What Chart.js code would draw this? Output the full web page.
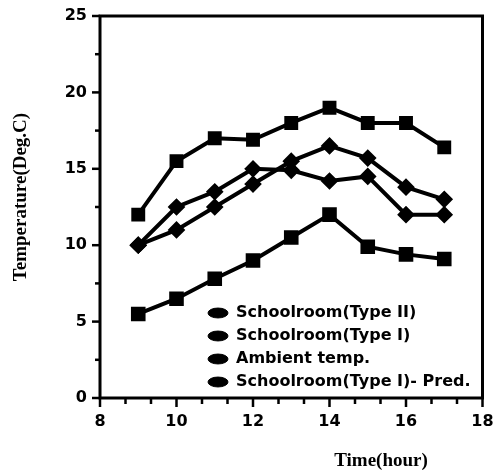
<!DOCTYPE html>
<html><head><meta charset="utf-8">
<style>html,body{margin:0;padding:0;background:#fff}canvas{display:block}</style>
<script src="https://cdn.jsdelivr.net/npm/chart.js@4.4.1/dist/chart.umd.min.js"></script>
</head><body>
<canvas id="c" width="494" height="474"></canvas>
<script>
const hours = [9, 10, 11, 12, 13, 14, 15, 16, 17];
const typeII = [12, 15.5, 17, 16.9, 18, 19, 18, 18, 16.4];
const typeI = [10, 12.5, 13.5, 15, 14.9, 14.2, 14.5, 12, 12];
const ambient = [5.5, 6.5, 7.8, 9, 10.5, 12, 9.9, 9.4, 9.1];
const typeIPred = [10, 11, 12.5, 14, 15.5, 16.5, 15.7, 13.8, 13];
const seriesNames = ['Schoolroom(Type II)', 'Schoolroom(Type I)', 'Ambient temp.', 'Schoolroom(Type I)- Pred.'];
const xLabelValues = [8, 10, 12, 14, 16, 18];
const yLabelValues = [0, 5, 10, 15, 20, 25];
const xMinorStep = 2 / 3;
const yMinorStep = 2.5;
const xTitle = 'Time(hour)';
const yTitle = 'Temperature(Deg.C)';

const xMin = xLabelValues[0], xMax = xLabelValues[xLabelValues.length - 1];
const yMin = yLabelValues[0], yMax = yLabelValues[yLabelValues.length - 1];
const isIn = (arr, v) => arr.some(a => Math.abs(a - v) < 1e-6);
const pts = arr => hours.map((h, i) => ({x: h, y: arr[i]}));

function ds(label, arr, style, r) {
  return {label, data: pts(arr), borderColor: '#000', backgroundColor: '#000',
    borderWidth: 4, pointStyle: style, pointRadius: r, pointHoverRadius: r, tension: 0};
}

const framePlugin = {
  id: 'framePlugin',
  afterLayout(chart) {
    const lg = chart.legend, a = chart.chartArea;
    if (!lg) return;
    const w = lg.width, h = lg.height;
    lg.left = a.left + 101; lg.right = lg.left + w;
    lg.top = a.top + 282; lg.bottom = lg.top + h;
  },
  afterDraw(chart) {
    const {ctx, chartArea: a, scales: {x, y}} = chart;
    ctx.save();
    ctx.strokeStyle = '#000';
    ctx.lineWidth = 3;
    ctx.strokeRect(a.left, a.top, a.right - a.left, a.bottom - a.top);
    ctx.lineWidth = 2.5;
    x.ticks.forEach(t => {
      const px = x.getPixelForValue(t.value);
      const len = isIn(xLabelValues, t.value) ? 9 : 6;
      ctx.beginPath(); ctx.moveTo(px, a.bottom); ctx.lineTo(px, a.bottom + len); ctx.stroke();
    });
    y.ticks.forEach(t => {
      const py = y.getPixelForValue(t.value);
      const len = isIn(yLabelValues, t.value) ? 8 : 5;
      ctx.beginPath(); ctx.moveTo(a.left, py); ctx.lineTo(a.left - len, py); ctx.stroke();
    });
    ctx.fillStyle = '#000';
    ctx.font = 'bold 19px "Liberation Serif"';
    ctx.textAlign = 'center';
    ctx.textBaseline = 'middle';
    ctx.fillText(xTitle, a.left + 281, a.bottom + 63);
    ctx.translate(a.left - 79, a.top + 181);
    ctx.rotate(-Math.PI / 2);
    ctx.fillText(yTitle, 0, 0);
    ctx.restore();
  }
};

new Chart(document.getElementById('c'), {
  type: 'line',
  data: {
    datasets: [
      ds(seriesNames[0], typeII, 'rect', 7),
      ds(seriesNames[1], typeI, 'rectRot', 6),
      ds(seriesNames[2], ambient, 'rect', 7.5),
      ds(seriesNames[3], typeIPred, 'rectRot', 6)
    ]
  },
  options: {
    responsive: false,
    animation: false,
    layout: {padding: {left: 0, right: 10, top: 16, bottom: 0}},
    plugins: {
      tooltip: {enabled: false},
      legend: {
        position: 'chartArea',
        align: 'start',
        labels: {
          color: '#000',
          font: {family: 'DejaVu Sans', weight: 'bold', size: 16},
          usePointStyle: true,
          pointStyleWidth: 20,
          boxHeight: 7,
          padding: 7,
          generateLabels: (chart) => Chart.defaults.plugins.legend.labels.generateLabels(chart)
            .map(l => Object.assign(l, {lineWidth: 1, pointStyle: 'circle'}))
        }
      }
    },
    scales: {
      x: {
        type: 'linear', min: xMin, max: xMax,
        afterBuildTicks: s => {
          const t = [];
          for (let k = 0; xMin + k * xMinorStep <= xMax + 1e-6; k++) t.push({value: xMin + k * xMinorStep});
          s.ticks = t;
        },
        afterFit: s => { s.height = 76; },
        grid: {display: false, tickLength: 14},
        border: {display: false},
        ticks: {
          autoSkip: false, maxRotation: 0, padding: 0, color: '#000',
          font: {family: 'DejaVu Sans', weight: 'bold', size: 16},
          callback: v => isIn(xLabelValues, v) ? String(Math.round(v)) : ''
        }
      },
      y: {
        type: 'linear', min: yMin, max: yMax,
        afterBuildTicks: s => {
          const t = [];
          for (let k = 0; yMin + k * yMinorStep <= yMax + 1e-6; k++) t.push({value: yMin + k * yMinorStep});
          s.ticks = t;
        },
        afterFit: s => { s.width = 100; },
        grid: {display: false, tickLength: 13},
        border: {display: false},
        ticks: {
          autoSkip: false, padding: 0, color: '#000',
          font: {family: 'DejaVu Sans', weight: 'bold', size: 16},
          callback: v => isIn(yLabelValues, v) ? String(Math.round(v)) : ''
        }
      }
    }
  },
  plugins: [framePlugin]
});
</script>
</body></html>
